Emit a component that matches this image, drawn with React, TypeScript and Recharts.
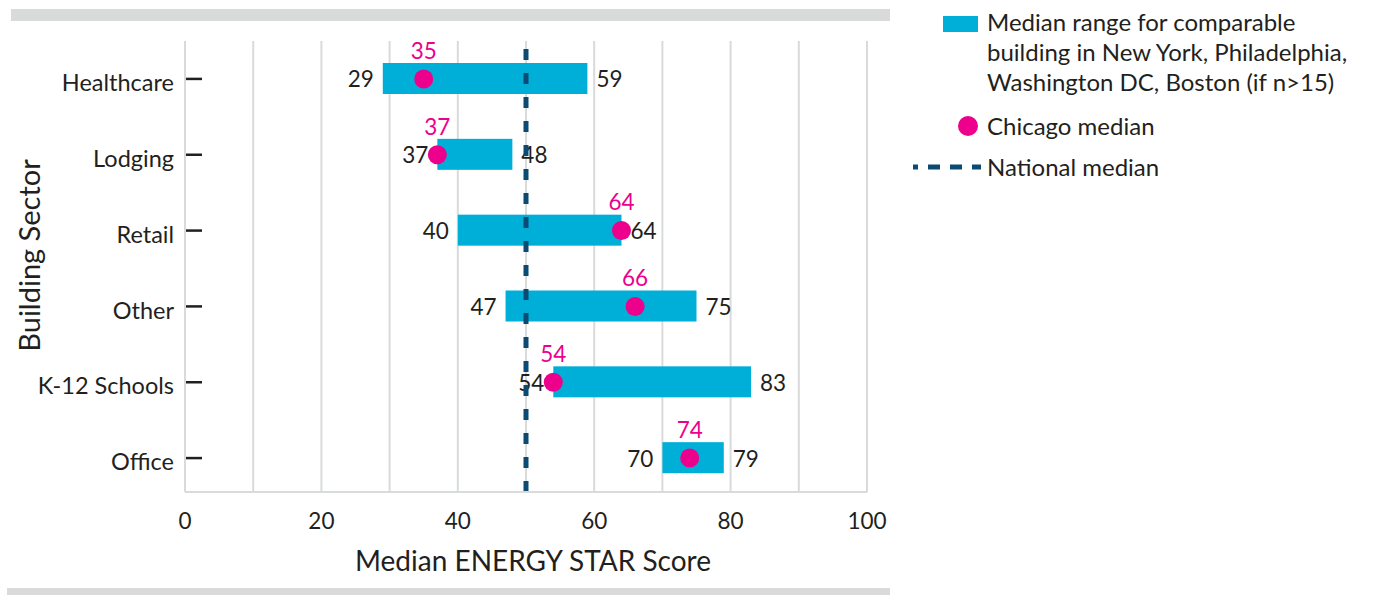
import React from "react";
import { ComposedChart, Bar, Line, XAxis, YAxis, CartesianGrid, ReferenceLine } from "recharts";

const sectors = ["Healthcare", "Lodging", "Retail", "Other", "K-12 Schools", "Office"];
const rangeLow = [29, 37, 40, 47, 54, 70];
const rangeHigh = [59, 48, 64, 75, 83, 79];
const chicagoMedian = [35, 37, 64, 66, 54, 74];
const nationalMedian = 50;
const xTicks = [0, 10, 20, 30, 40, 50, 60, 70, 80, 90, 100];

const CYAN = "#00afd8";
const PINK = "#ec008c";
const NAVY = "#0b4a72";
const DARK = "#231f20";
const GRID = "#d9dbdb";
const FONT = "Lato, 'Noto Sans', sans-serif";

const data = sectors.map((sector, i) => ({
  sector,
  low: rangeLow[i],
  high: rangeHigh[i],
  range: [rangeLow[i], rangeHigh[i]],
  chicago: chicagoMedian[i],
}));

function RangeBar(props: any) {
  const { x, y, width, height, payload } = props;
  const cy = y + height / 2;
  return (
    <g>
      <rect x={x} y={y} width={width} height={height} fill={CYAN} />
      <text x={x - 9} y={cy + 1} dy="0.35em" textAnchor="end" fontSize={22.5} fill={DARK} fontFamily={FONT}>
        {payload.low}
      </text>
      <text x={x + width + 9} y={cy + 1} dy="0.35em" textAnchor="start" fontSize={22.5} fill={DARK} fontFamily={FONT}>
        {payload.high}
      </text>
    </g>
  );
}

function ChicagoDot(props: any) {
  const { cx, cy, payload, index } = props;
  return (
    <g key={`dot-${index}`}>
      <circle cx={cx} cy={cy} r={9.5} fill={PINK} />
      <text x={cx} y={cy - 28} dy="0.35em" textAnchor="middle" fontSize={22.5} fill={PINK} fontFamily={FONT}>
        {payload.chicago}
      </text>
    </g>
  );
}

function SectorTick(props: any) {
  const { x, y, payload } = props;
  return (
    <g>
      <line x1={x + 1} x2={x + 17} y1={y} y2={y} stroke={DARK} strokeWidth={2.5} />
      <text x={x - 11} y={y + 4} dy="0.35em" textAnchor="end" fontSize={23.5} fill={DARK} fontFamily={FONT}>
        {payload.value}
      </text>
    </g>
  );
}

function ScoreTick(props: any) {
  const { x, y, payload } = props;
  if (payload.value % 20 !== 0) return <g />;
  return (
    <text x={x} y={y + 29} dy="0.35em" textAnchor="middle" fontSize={22.5} fill={DARK} fontFamily={FONT}>
      {payload.value}
    </text>
  );
}

function XTitle(props: any) {
  const { viewBox } = props;
  return (
    <text x={viewBox.x + viewBox.width / 2 + 7} y={viewBox.y + 69} dy="0.35em" textAnchor="middle" fontSize={28} fill={DARK} fontFamily={FONT}>
      Median ENERGY STAR Score
    </text>
  );
}

function YTitle(props: any) {
  const { viewBox } = props;
  const cx = 30;
  const cy = viewBox.y + viewBox.height / 2 - 11;
  return (
    <text x={cx} y={cy} transform={`rotate(-90 ${cx} ${cy})`} dy="0.35em" textAnchor="middle" fontSize={29} fill={DARK} fontFamily={FONT}>
      Building Sector
    </text>
  );
}

const legendText: React.CSSProperties = {
  position: "absolute",
  left: 987,
  fontSize: 24,
  lineHeight: "30px",
  whiteSpace: "nowrap",
};

export default function App() {
  return (
    <div style={{ position: "absolute", left: 0, top: 0, width: 1373, height: 595, background: "#fff", fontFamily: FONT, color: DARK }}>
      <div style={{ position: "absolute", left: 11, top: 9, width: 879, height: 12, background: GRID }} />
      <div style={{ position: "absolute", left: 7, top: 588, width: 883, height: 7, background: GRID }} />
      <div style={{ position: "absolute", left: 0, top: 0 }}>
        <ComposedChart
          width={890}
          height={595}
          data={data}
          layout="vertical"
          margin={{ top: 41, right: 23, bottom: 23, left: 0 }}
        >
          <CartesianGrid horizontal={false} stroke={GRID} strokeWidth={2} />
          <XAxis
            type="number"
            domain={[0, 100]}
            ticks={xTicks}
            interval={0}
            height={80}
            axisLine={{ stroke: GRID, strokeWidth: 2 }}
            tickLine={false}
            tickSize={0}
            tickMargin={0}
            tick={<ScoreTick />}
            label={<XTitle />}
          />
          <YAxis
            type="category"
            dataKey="sector"
            width={185}
            padding={{ top: 0, bottom: -4 }}
            axisLine={{ stroke: GRID, strokeWidth: 2 }}
            tickLine={false}
            tickSize={0}
            tickMargin={0}
            tick={<SectorTick />}
            label={<YTitle />}
          />
          <Bar dataKey="range" barSize={31} shape={<RangeBar />} isAnimationActive={false} />
          <ReferenceLine x={nationalMedian} stroke={NAVY} strokeWidth={5} strokeDasharray="11 13" />
          <Line
            dataKey="chicago"
            stroke="none"
            strokeWidth={0}
            dot={(p: any) => <ChicagoDot key={`d-${p.index}`} {...p} />}
            activeDot={false}
            isAnimationActive={false}
          />
        </ComposedChart>
      </div>
      <div style={{ position: "absolute", left: 943, top: 16, width: 35, height: 16, background: CYAN }} />
      <div style={{ ...legendText, top: 7 }}>
        Median range for comparable
        <br />
        building in New York, Philadelphia,
        <br />
        Washington DC, Boston (if n&gt;15)
      </div>
      <div style={{ position: "absolute", left: 958, top: 116, width: 20, height: 20, borderRadius: 10, background: PINK }} />
      <div style={{ ...legendText, top: 111 }}>Chicago median</div>
      <svg style={{ position: "absolute", left: 910, top: 160 }} width={75} height={14}>
        <line x1={3} x2={71} y1={7} y2={7} stroke={NAVY} strokeWidth={5} strokeDasharray="12 10" strokeDashoffset={7} />
      </svg>
      <div style={{ ...legendText, top: 152 }}>National median</div>
    </div>
  );
}
